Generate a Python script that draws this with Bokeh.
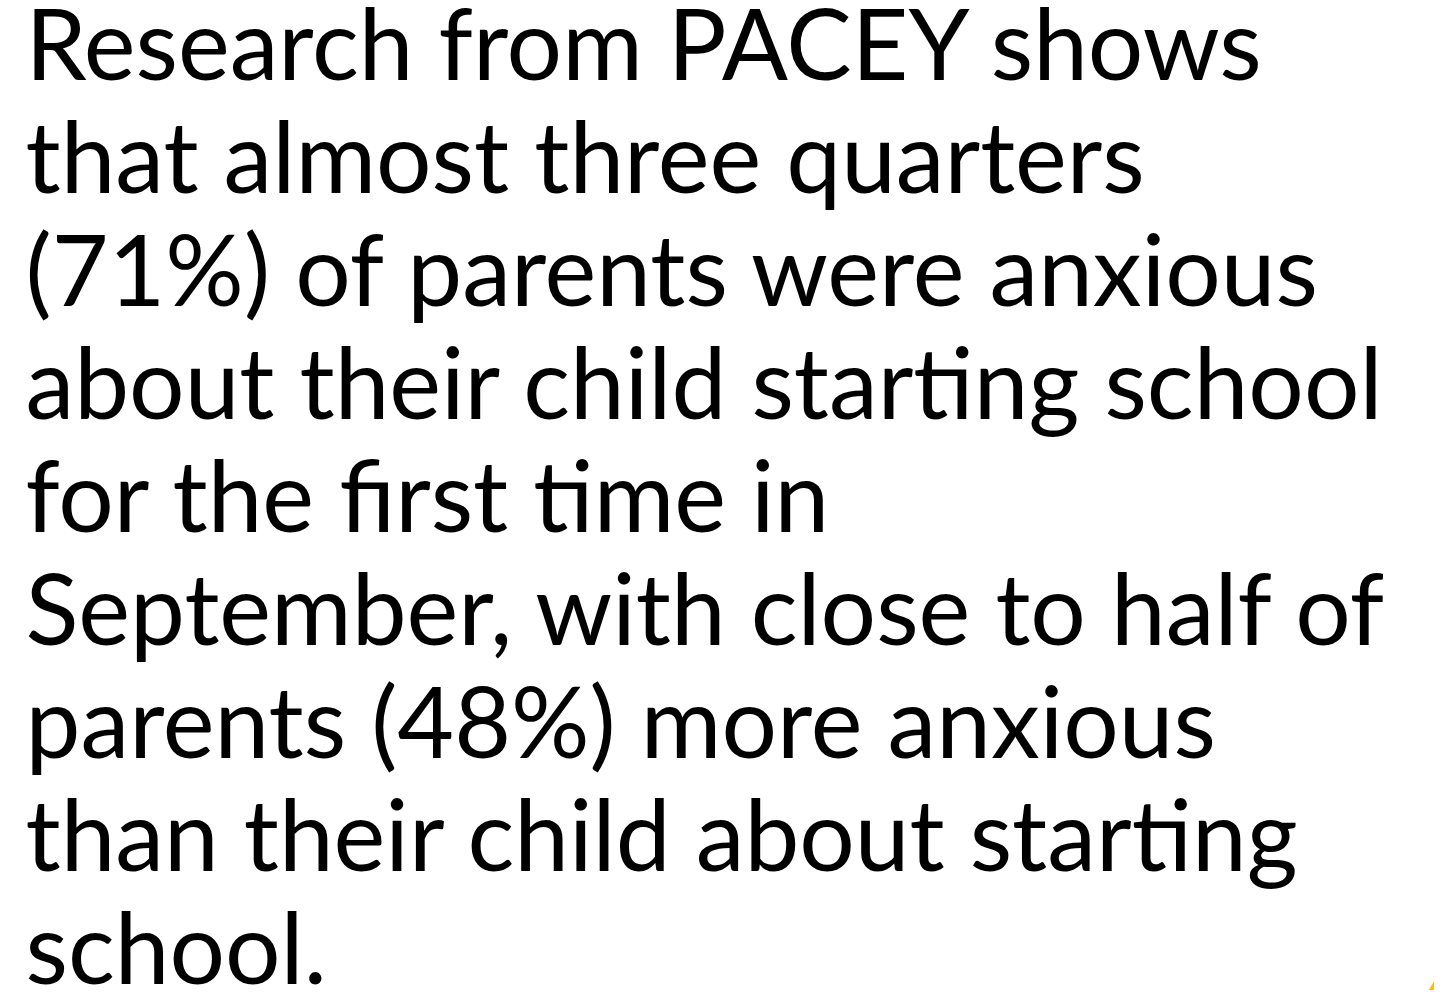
from bokeh.plotting import figure
from bokeh.models import Range1d, ColumnDataSource
from bokeh.core.properties import value
from bokeh.embed import file_html
from bokeh.resources import INLINE

lines = [
    "Research from PACEY shows",
    "that almost three quarters",
    "(71%) of parents were anxious",
    "about their child starting school",
    "for the first time in",
    "September,  with close to half of",
    "parents (48%) more anxious",
    "than their child about starting",
    "school.",
]

W, H = 1434, 990
first_y = 41
line_step = 113
left = 25

p = figure(width=W, height=H, output_backend="svg", toolbar_location=None,
           x_range=Range1d(0, W), y_range=Range1d(H, 0), min_border=0)
p.axis.visible = False
p.grid.visible = False
p.outline_line_color = None
p.background_fill_color = "white"
p.border_fill_color = "white"

src = ColumnDataSource(dict(
    x=[left] * len(lines),
    y=[first_y + i * line_step for i in range(len(lines))],
    text=lines,
))
p.text(x="x", y="y", text="text", source=src, text_font=value("Lato"),
       text_font_size="98px", text_baseline="alphabetic", text_align="left",
       text_color="black")

# small decorative corner shape
p.patch([W - 6, W, W], [H, H - 10, H], color="#FFC000", line_color=None)

open("out.html", "w").write(file_html(p, INLINE))
